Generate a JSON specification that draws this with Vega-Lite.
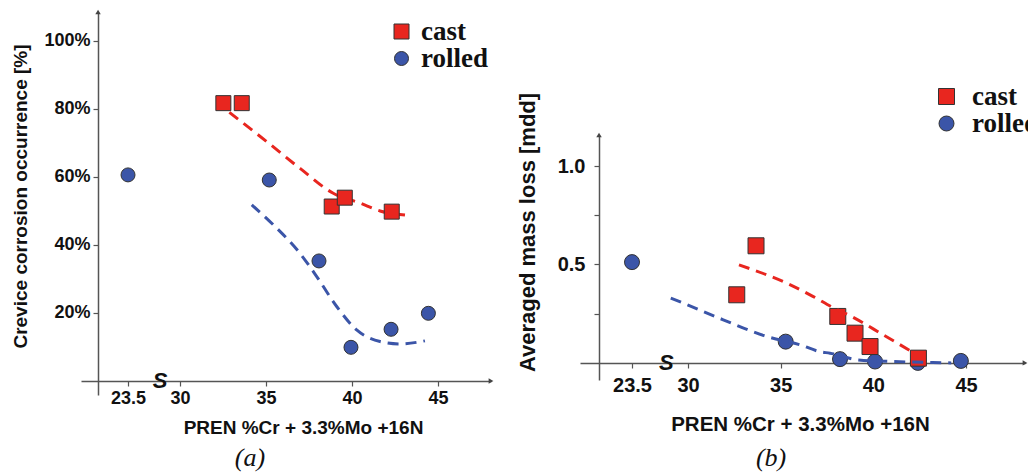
{
  "$schema": "https://vega.github.io/schema/vega-lite/v6.json",
  "width": 1028,
  "height": 475,
  "autosize": "none",
  "padding": 0,
  "background": "white",
  "config": {
    "view": {"stroke": null},
    "axis": {
      "labelFont": "Liberation Sans", "labelFontWeight": "bold", "labelColor": "#111",
      "titleFont": "Liberation Sans", "titleFontWeight": "bold", "titleColor": "#111",
      "domainColor": "#555", "domainWidth": 1.5, "tickColor": "#555", "tickWidth": 1.2,
      "grid": false, "labelFlush": false, "labelOverlap": false, "labelBound": false
    }
  },
  "datasets": {
    "a_pts": [
      {"x": 23.5, "y": 60.6, "series": "rolled"},
      {"x": 35.19, "y": 59.1, "series": "rolled"},
      {"x": 38.08, "y": 35.3, "series": "rolled"},
      {"x": 39.94, "y": 9.9, "series": "rolled"},
      {"x": 42.27, "y": 15.2, "series": "rolled"},
      {"x": 44.44, "y": 19.9, "series": "rolled"},
      {"x": 32.52, "y": 81.7, "series": "cast"},
      {"x": 33.59, "y": 81.7, "series": "cast"},
      {"x": 38.82, "y": 51.3, "series": "cast"},
      {"x": 39.58, "y": 53.9, "series": "cast"},
      {"x": 42.31, "y": 49.8, "series": "cast"}
    ],
    "a_fit": [
      {"x": 32.87, "y": 79.0, "series": "cast"},
      {"x": 35.04, "y": 70.4, "series": "cast"},
      {"x": 36.98, "y": 62.5, "series": "cast"},
      {"x": 38.91, "y": 55.2, "series": "cast"},
      {"x": 40.47, "y": 52.3, "series": "cast"},
      {"x": 41.63, "y": 50.0, "series": "cast"},
      {"x": 43.08, "y": 48.8, "series": "cast"},
      {"x": 34.17, "y": 51.8, "series": "rolled"},
      {"x": 35.43, "y": 45.9, "series": "rolled"},
      {"x": 36.98, "y": 37.5, "series": "rolled"},
      {"x": 37.95, "y": 30.7, "series": "rolled"},
      {"x": 39.11, "y": 21.9, "series": "rolled"},
      {"x": 40.27, "y": 15.0, "series": "rolled"},
      {"x": 41.63, "y": 11.6, "series": "rolled"},
      {"x": 42.79, "y": 10.9, "series": "rolled"},
      {"x": 44.24, "y": 11.8, "series": "rolled"}
    ],
    "a_brk": [{"x": 27.5, "y": 0, "label": "S"}],
    "a_cap": [{"x": 34.07, "y": -25, "label": "(a)"}],
    "a_arrow": [
      {"x": 21.27, "y": 108.5, "dir": "up"},
      {"x": 48.08, "y": 0, "dir": "right"}
    ],
    "b_pts": [
      {"x": 23.5, "y": 0.512, "series": "rolled"},
      {"x": 35.27, "y": 0.108, "series": "rolled"},
      {"x": 38.2, "y": 0.019, "series": "rolled"},
      {"x": 40.09, "y": 0.007, "series": "rolled"},
      {"x": 42.4, "y": 0.0, "series": "rolled"},
      {"x": 44.72, "y": 0.01, "series": "rolled"},
      {"x": 32.63, "y": 0.346, "series": "cast"},
      {"x": 33.67, "y": 0.595, "series": "cast"},
      {"x": 38.08, "y": 0.236, "series": "cast"},
      {"x": 39.01, "y": 0.151, "series": "cast"},
      {"x": 39.82, "y": 0.083, "series": "cast"},
      {"x": 42.43, "y": 0.024, "series": "cast"}
    ],
    "b_fit": [
      {"x": 32.75, "y": 0.498, "series": "cast"},
      {"x": 35.33, "y": 0.405, "series": "cast"},
      {"x": 36.76, "y": 0.337, "series": "cast"},
      {"x": 37.84, "y": 0.28, "series": "cast"},
      {"x": 38.74, "y": 0.24, "series": "cast"},
      {"x": 40.54, "y": 0.142, "series": "cast"},
      {"x": 42.2, "y": 0.05, "series": "cast"},
      {"x": 28.0, "y": 0.329, "series": "rolled"},
      {"x": 29.45, "y": 0.304, "series": "rolled"},
      {"x": 31.9, "y": 0.219, "series": "rolled"},
      {"x": 34.25, "y": 0.134, "series": "rolled"},
      {"x": 36.04, "y": 0.092, "series": "rolled"},
      {"x": 37.12, "y": 0.057, "series": "rolled"},
      {"x": 37.66, "y": 0.049, "series": "rolled"},
      {"x": 39.19, "y": 0.015, "series": "rolled"},
      {"x": 41.06, "y": 0.007, "series": "rolled"},
      {"x": 43.2, "y": 0.002, "series": "rolled"},
      {"x": 44.2, "y": 0.0, "series": "rolled"}
    ],
    "b_brk": [{"x": 27.5, "y": 0, "label": "S"}],
    "b_cap": [{"x": 34.48, "y": -0.524, "label": "(b)"}],
    "b_arrow": [
      {"x": 21.28, "y": 1.158, "dir": "up"},
      {"x": 48.18, "y": 0, "dir": "right"}
    ]
  },
  "layer": [
    {
      "encoding": {
        "x": {
          "field": "x", "type": "quantitative",
          "scale": {"type": "linear", "domain": [20, 23.5, 30, 48.08], "range": [81, 128, 180, 491], "nice": false, "zero": false},
          "axis": {"orient": "bottom", "offset": -94, "values": [23.5, 30, 35, 40, 45], "labelExpr": "datum.value + ''",
            "title": "PREN %Cr + 3.3%Mo +16N", "titleX": 303, "titleY": 52, "titleBaseline": "alphabetic", "titleAlign": "center",
            "titleFontSize": 19, "labelFontSize": 18, "labelPadding": 3, "tickSize": 5}
        },
        "y": {
          "field": "y", "type": "quantitative",
          "scale": {"type": "linear", "domain": [-4.12, 108.5], "range": [395, 12], "nice": false, "zero": false},
          "axis": {"orient": "left", "offset": -98, "values": [20, 40, 60, 80, 100], "labelExpr": "datum.value + '%'",
            "title": "Crevice corrosion occurrence [%]", "titleX": -72, "titleY": 196, "titleAngle": 270, "titleBaseline": "alphabetic", "titleAlign": "center",
            "titleFontSize": 19, "labelFontSize": 18, "labelPadding": 3, "tickSize": 5}
        }
      },
      "layer": [
        {
          "data": {"name": "a_fit"},
          "transform": [{"filter": "datum.series == 'cast'"}],
          "mark": {"type": "line", "color": "#e8261f", "strokeWidth": 3, "strokeDash": [11, 7], "interpolate": "monotone"},
          "encoding": {}
        },
        {
          "data": {"name": "a_fit"},
          "transform": [{"filter": "datum.series == 'rolled'"}],
          "mark": {"type": "line", "color": "#3b55a8", "strokeWidth": 3, "strokeDash": [11, 7], "interpolate": "monotone"},
          "encoding": {}
        },
        {
          "data": {"name": "a_pts"},
          "mark": {"type": "point", "filled": true, "opacity": 1, "stroke": "#333", "strokeWidth": 1},
          "encoding": {
            "color": {"field": "series", "type": "nominal", "scale": {"domain": ["cast", "rolled"], "range": ["#e8261f", "#3b55a8"]},
              "legend": {"orient": "none", "legendX": 388, "legendY": 18, "title": null, "labelFont": "Liberation Serif", "labelFontWeight": "bold", "labelFontSize": 27, "labelColor": "#111", "symbolSize": 180, "labelOffset": 6, "rowPadding": -4, "padding": 0, "symbolStrokeColor": "#333", "symbolStrokeWidth": 1}},
            "shape": {"field": "series", "type": "nominal", "scale": {"domain": ["cast", "rolled"], "range": ["square", "circle"]},
              "legend": {"orient": "none", "legendX": 388, "legendY": 18, "title": null, "labelFont": "Liberation Serif", "labelFontWeight": "bold", "labelFontSize": 27, "labelColor": "#111", "symbolSize": 180, "labelOffset": 6, "rowPadding": -4, "padding": 0, "symbolStrokeColor": "#333", "symbolStrokeWidth": 1}},
            "size": {"field": "series", "type": "nominal", "scale": {"domain": ["cast", "rolled"], "range": [225, 196]}, "legend": null}
          }
        },
        {
          "data": {"name": "a_brk"},
          "mark": {"type": "text", "font": "Liberation Sans", "fontWeight": "bold", "fontStyle": "italic", "fontSize": 22, "baseline": "middle", "align": "center", "color": "#111"},
          "encoding": {"text": {"field": "label"}}
        },
        {
          "data": {"name": "a_cap"},
          "mark": {"type": "text", "font": "Liberation Serif", "fontStyle": "italic", "fontSize": 26, "baseline": "alphabetic", "align": "center", "color": "#111"},
          "encoding": {"text": {"field": "label"}}
        },
        {
          "data": {"name": "a_arrow"},
          "transform": [{"filter": "datum.dir == 'up'"}],
          "mark": {"type": "point", "shape": "triangle-up", "filled": true, "color": "#444", "size": 30, "opacity": 1}
        },
        {
          "data": {"name": "a_arrow"},
          "transform": [{"filter": "datum.dir == 'right'"}],
          "mark": {"type": "point", "shape": "triangle-right", "filled": true, "color": "#444", "size": 30, "opacity": 1}
        }
      ]
    },
    {
      "encoding": {
        "x": {
          "field": "x", "type": "quantitative",
          "scale": {"type": "linear", "domain": [20, 23.5, 30, 48.18], "range": [580, 632, 688, 1025], "nice": false, "zero": false},
          "axis": {"orient": "bottom", "offset": -112, "values": [23.5, 30, 35, 40, 45], "labelExpr": "datum.value + ''",
            "title": "PREN %Cr + 3.3%Mo +16N", "titleX": 800, "titleY": 67, "titleBaseline": "alphabetic", "titleAlign": "center",
            "titleFontSize": 20.5, "labelFontSize": 20, "labelPadding": 7, "tickSize": 5}
        },
        "y": {
          "field": "y", "type": "quantitative",
          "scale": {"type": "linear", "domain": [-0.087, 1.158], "range": [380, 135], "nice": false, "zero": false},
          "axis": {"orient": "left", "offset": -599, "values": [0.25, 0.5, 0.75, 1.0], "labelExpr": "datum.value == 0.5 ? '0.5' : (datum.value == 1 ? '1.0' : '')",
            "title": "Averaged mass loss [mdd]", "titleX": -65, "titleY": 232, "titleAngle": 270, "titleBaseline": "alphabetic", "titleAlign": "center",
            "titleFontSize": 22, "labelFontSize": 20, "labelPadding": 9, "tickSize": 5}
        }
      },
      "layer": [
        {
          "data": {"name": "b_pts"},
          "mark": {"type": "point", "filled": true, "opacity": 1, "stroke": "#333", "strokeWidth": 1},
          "encoding": {
            "color": {"field": "series", "type": "nominal", "scale": {"domain": ["cast", "rolled"], "range": ["#e8261f", "#3b55a8"]},
              "legend": {"orient": "none", "legendX": 933, "legendY": 83, "title": null, "labelFont": "Liberation Serif", "labelFontWeight": "bold", "labelFontSize": 27, "labelColor": "#111", "symbolSize": 180, "labelOffset": 12, "rowPadding": -4, "padding": 0, "symbolStrokeColor": "#333", "symbolStrokeWidth": 1}},
            "shape": {"field": "series", "type": "nominal", "scale": {"domain": ["cast", "rolled"], "range": ["square", "circle"]},
              "legend": {"orient": "none", "legendX": 933, "legendY": 83, "title": null, "labelFont": "Liberation Serif", "labelFontWeight": "bold", "labelFontSize": 27, "labelColor": "#111", "symbolSize": 180, "labelOffset": 12, "rowPadding": -4, "padding": 0, "symbolStrokeColor": "#333", "symbolStrokeWidth": 1}},
            "size": {"field": "series", "type": "nominal", "scale": {"domain": ["cast", "rolled"], "range": [256, 225]}, "legend": null}
          }
        },
        {
          "data": {"name": "b_fit"},
          "transform": [{"filter": "datum.series == 'cast'"}],
          "mark": {"type": "line", "color": "#e8261f", "strokeWidth": 3, "strokeDash": [11, 7], "interpolate": "monotone"},
          "encoding": {}
        },
        {
          "data": {"name": "b_fit"},
          "transform": [{"filter": "datum.series == 'rolled'"}],
          "mark": {"type": "line", "color": "#3b55a8", "strokeWidth": 3, "strokeDash": [11, 7], "interpolate": "monotone"},
          "encoding": {}
        },
        {
          "data": {"name": "b_brk"},
          "mark": {"type": "text", "font": "Liberation Sans", "fontWeight": "bold", "fontStyle": "italic", "fontSize": 22, "baseline": "middle", "align": "center", "color": "#111"},
          "encoding": {"text": {"field": "label"}}
        },
        {
          "data": {"name": "b_cap"},
          "mark": {"type": "text", "font": "Liberation Serif", "fontStyle": "italic", "fontSize": 26, "baseline": "alphabetic", "align": "center", "color": "#111"},
          "encoding": {"text": {"field": "label"}}
        },
        {
          "data": {"name": "b_arrow"},
          "transform": [{"filter": "datum.dir == 'up'"}],
          "mark": {"type": "point", "shape": "triangle-up", "filled": true, "color": "#444", "size": 30, "opacity": 1}
        },
        {
          "data": {"name": "b_arrow"},
          "transform": [{"filter": "datum.dir == 'right'"}],
          "mark": {"type": "point", "shape": "triangle-right", "filled": true, "color": "#444", "size": 30, "opacity": 1}
        }
      ]
    }
  ],
  "resolve": {
    "scale": {"x": "independent", "y": "independent", "color": "independent", "shape": "independent", "size": "independent"},
    "axis": {"x": "independent", "y": "independent"},
    "legend": {"color": "independent", "shape": "independent"}
  }
}
